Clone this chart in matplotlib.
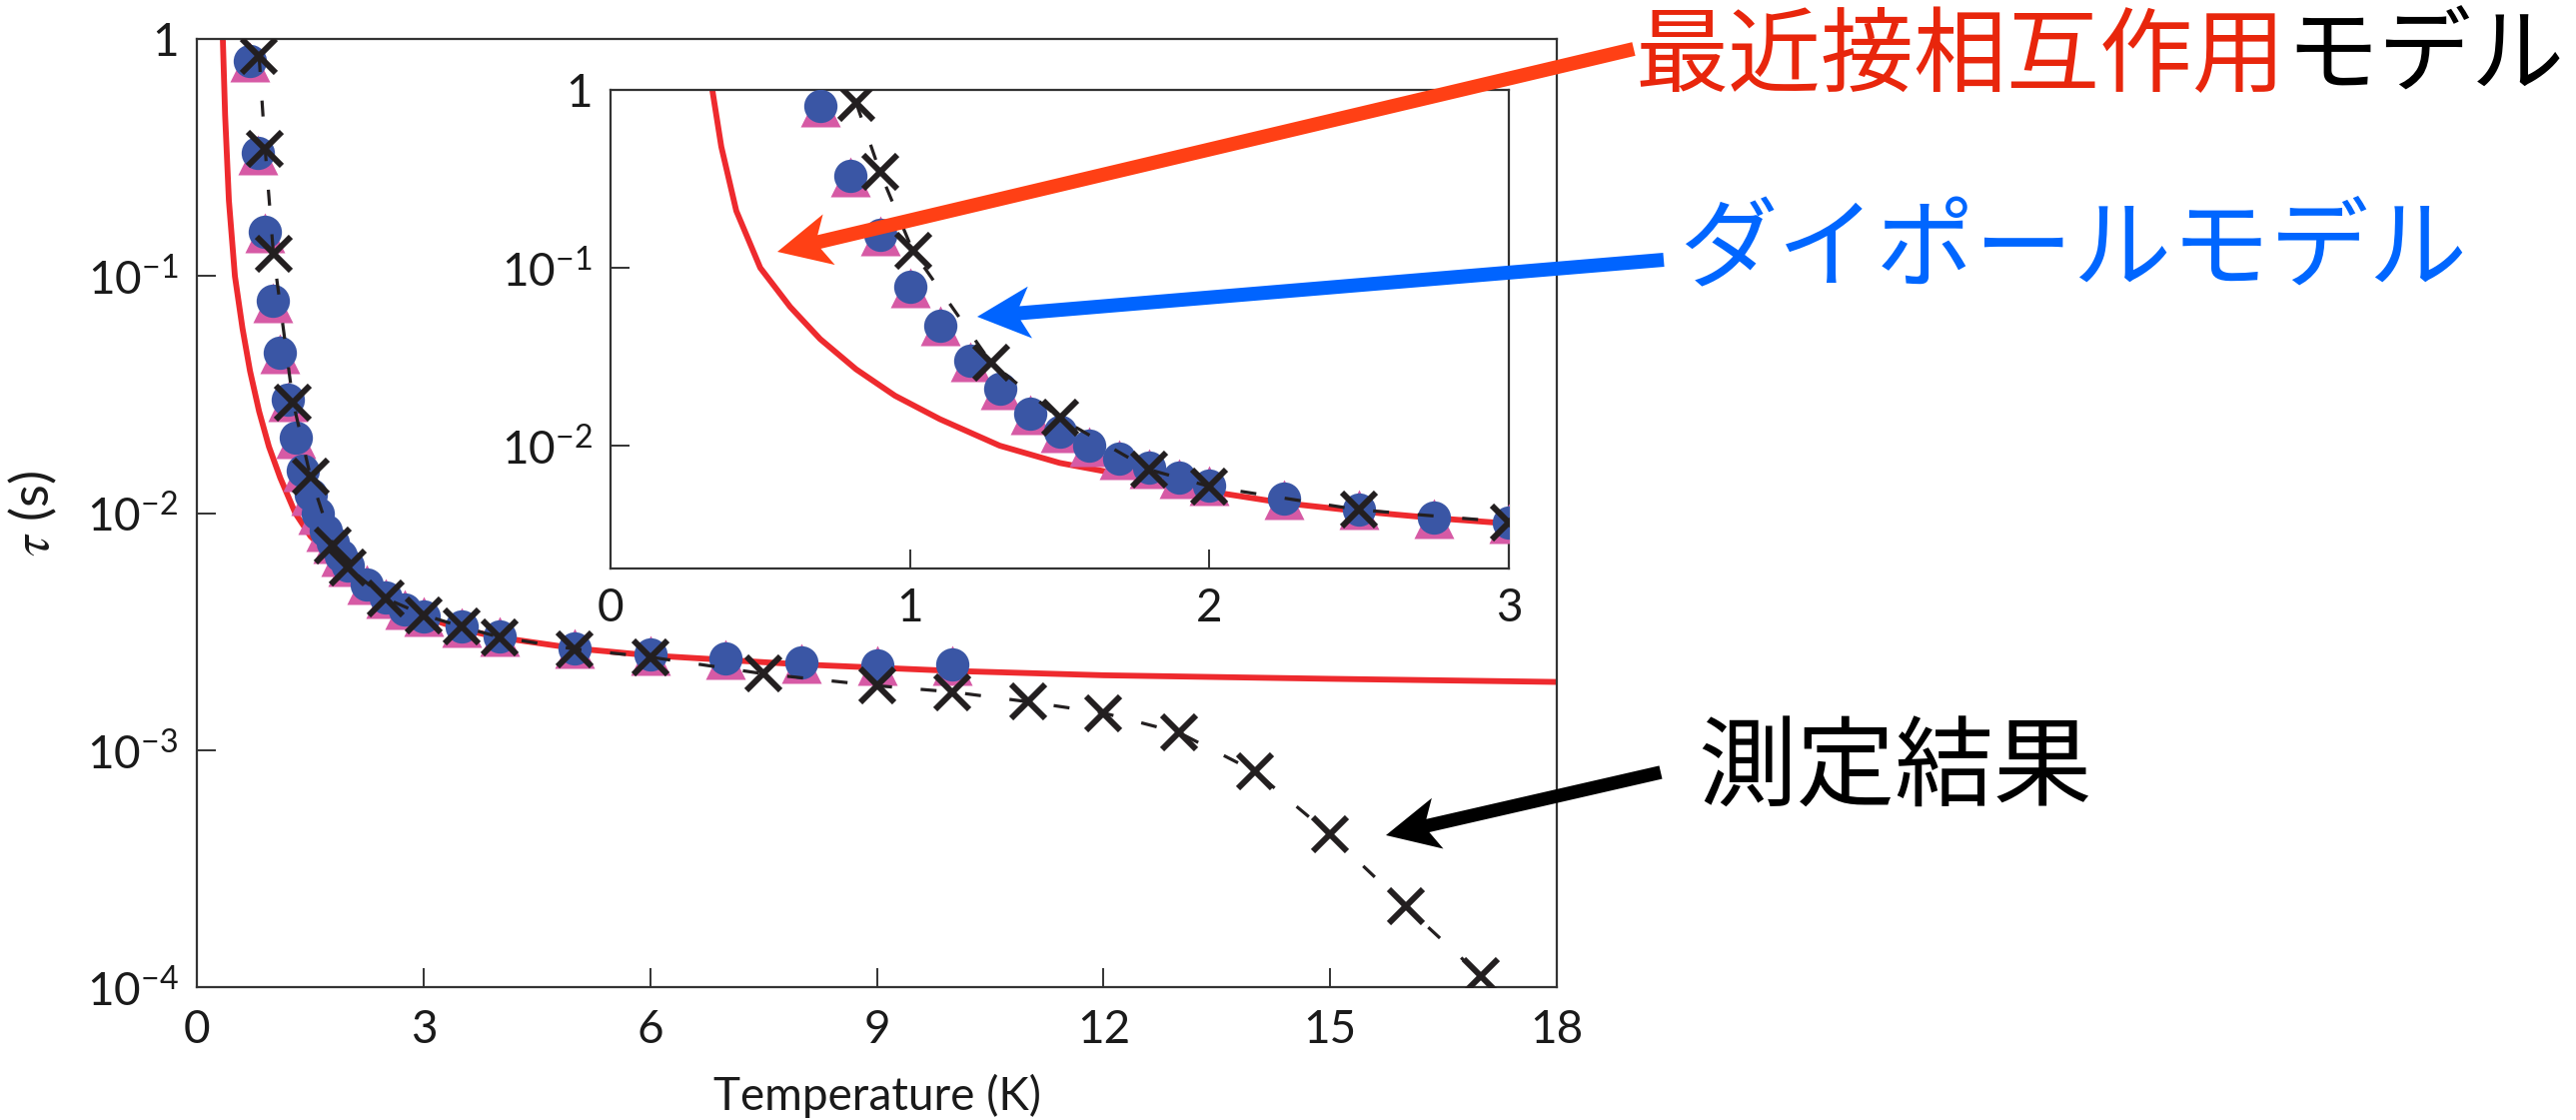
import matplotlib
matplotlib.use("Agg")
import matplotlib.pyplot as plt
import numpy as np
from matplotlib.patches import Polygon
from matplotlib.transforms import IdentityTransform
from matplotlib.ticker import FixedLocator, FixedFormatter

# ---------------- data ----------------
# nearest-neighbour model (red curve)
nn_T = [0.34, 0.37, 0.42, 0.50, 0.60, 0.70, 0.82, 0.95, 1.10, 1.30, 1.50, 1.80,
        2.00, 2.25, 2.50, 2.75, 3.00, 3.50, 4.00, 5.00, 6.00, 8.00, 10.0, 12.0,
        15.0, 18.0]
nn_tau = [1.0, 0.479, 0.209, 0.100, 0.0603, 0.0398, 0.0269, 0.0191, 0.0141,
          0.0100, 0.0080, 0.00644, 0.00553, 0.00476, 0.00428, 0.00392, 0.00365,
          0.00324, 0.00299, 0.00269, 0.00251, 0.00230, 0.00216, 0.00207,
          0.00200, 0.00194]

# dipolar model simulations (circles and triangles)
dip_T = [0.7, 0.8, 0.9, 1.0, 1.1, 1.2, 1.3, 1.4, 1.5, 1.6, 1.7, 1.8, 1.9, 2.0,
         2.25, 2.5, 2.75, 3.0, 3.5, 4.0, 5.0, 6.0, 7.0, 8.0, 9.0, 10.0]
dip_tau = [0.81, 0.33, 0.154, 0.0785, 0.0475, 0.030, 0.0209, 0.0151, 0.0120,
           0.0100, 0.00845, 0.0075, 0.0066, 0.0060, 0.00502, 0.0044, 0.00392,
           0.00368, 0.00332, 0.00303, 0.00269, 0.00253, 0.00243, 0.00234,
           0.00228, 0.00229]
tri_tau = [0.80, 0.325, 0.152, 0.0775, 0.047, 0.0297, 0.0207, 0.0150, 0.0119,
           0.0099, 0.0084, 0.00745, 0.00655, 0.00596, 0.00500, 0.00438, 0.00391,
           0.00367, 0.00331, 0.00302, 0.00268, 0.00252, 0.00242, 0.00233,
           0.00227, 0.00228]

# measurement (crosses)
exp_T = [0.82, 0.90, 1.01, 1.27, 1.50, 1.80, 2.00, 2.50, 3.00, 3.50, 4.00, 5.00,
         6.00, 7.50, 9.00, 10.0, 11.0, 12.0, 13.0, 14.0, 15.0, 16.0, 17.0]
exp_tau = [0.85, 0.345, 0.124, 0.0294, 0.0143, 0.00733, 0.0059, 0.00436,
           0.00372, 0.00332, 0.0030, 0.00267, 0.00247, 0.0021, 0.00187,
           0.00176, 0.0016, 0.001435, 0.001185, 0.000814, 0.00044, 0.000219,
           0.000111]

main_xticks = [0, 3, 6, 9, 12, 15, 18]
main_yticks = [1e-4, 1e-3, 1e-2, 1e-1, 1]
main_ylabels = [r'$\mathregular{10^{-4}}$', r'$\mathregular{10^{-3}}$',
                r'$\mathregular{10^{-2}}$', r'$\mathregular{10^{-1}}$', '1']
inset_xticks = [0, 1, 2, 3]
inset_yticks = [1e-2, 1e-1, 1]
inset_ylabels = [r'$\mathregular{10^{-2}}$', r'$\mathregular{10^{-1}}$', '1']

# ---------------- style ----------------
W, H, DPI = 2578, 1121, 100
plt.rcParams['font.family'] = ['Lato', 'DejaVu Sans']
plt.rcParams['font.weight'] = 'normal'
plt.rcParams['axes.labelweight'] = 'normal'
plt.rcParams['mathtext.fontset'] = 'stix'
JP = ['Noto Sans CJK JP', 'DejaVu Sans']

RED_LINE = '#EE2A2E'
BLUE_DOT = '#3A56A5'
PINK_TRI = '#D65AA5'
INK = '#231F20'
AXC = '#333333'
TXT = '#1A1A1A'

fig = plt.figure(figsize=(W / DPI, H / DPI), dpi=DPI)
fig.patch.set_facecolor('white')


def style_axes(ax, xticks, yticks, ylabels, xpad, ypad):
    ax.set_yscale('log')
    for s in ax.spines.values():
        s.set_linewidth(1.6)
        s.set_color(AXC)
    ax.xaxis.set_major_locator(FixedLocator(xticks))
    ax.set_xticklabels([str(t) for t in xticks])
    ax.yaxis.set_major_locator(FixedLocator(yticks))
    ax.yaxis.set_major_formatter(FixedFormatter(ylabels))
    ax.yaxis.set_minor_locator(FixedLocator([]))
    ax.tick_params(which='major', direction='in', length=13.7, width=1.4,
                   color=AXC, labelsize=33, labelcolor=TXT,
                   top=False, right=False)
    ax.tick_params(axis='x', pad=xpad)
    ax.tick_params(axis='y', pad=ypad)


def draw_series(ax):
    ax.plot(nn_T, nn_tau, color=RED_LINE, lw=4.2, zorder=2)
    ax.plot(dip_T, tri_tau, ls='none', marker='^', ms=29, color=PINK_TRI,
            mec='none', zorder=3)
    ax.plot(dip_T, dip_tau, ls='none', marker='o', ms=24, color=BLUE_DOT,
            mec='none', zorder=4)
    ax.plot(exp_T, exp_tau, ls=(0, (5, 9)), lw=2.3, color=INK, zorder=5)
    ax.plot(exp_T, exp_tau, ls='none', marker='x', ms=25, mew=4.3, color=INK,
            zorder=6)


# main panel
ax = fig.add_axes([197.3 / W, 1 - 988 / H, (1558 - 197.3) / W, (988 - 39.3) / H])
draw_series(ax)
style_axes(ax, main_xticks, main_yticks, main_ylabels, xpad=15.5, ypad=13.5)
ax.set_xlim(0, 18)
ax.set_ylim(1e-4, 1)
ax.set_xlabel('Temperature (K)', fontsize=33, color=TXT)
ax.xaxis.set_label_coords(0.5, -0.092)
ax.set_ylabel(r'$\tau$ (s)', fontsize=38, color=TXT)
ax.yaxis.set_label_coords(-0.102, 0.5)

# inset panel
axi = fig.add_axes([611 / W, 1 - 569 / H, (1510 - 611) / W, (569 - 90) / H])
axi.set_facecolor('white')
draw_series(axi)
style_axes(axi, inset_xticks, inset_yticks, inset_ylabels, xpad=13.5, ypad=13)
axi.set_xlim(0, 3)
axi.set_ylim(2.04e-3, 1)


# ---------------- annotations ----------------
def arrow(tail, tip, color, shaft=13.5, head_len=53, head_w=52, neck=43):
    """Notched arrow given in image pixel coordinates (y downward)."""
    tail = np.array([tail[0], H - tail[1]], float)
    tip = np.array([tip[0], H - tip[1]], float)
    d = tip - tail
    d /= np.hypot(*d)
    n = np.array([-d[1], d[0]])
    back = tip - head_len * d
    nk = tip - neck * d
    verts = [tail + shaft / 2 * n, nk + shaft / 2 * n, back + head_w / 2 * n,
             tip, back - head_w / 2 * n, nk - shaft / 2 * n,
             tail - shaft / 2 * n]
    fig.add_artist(Polygon(verts, closed=True, facecolor=color,
                           edgecolor='none', transform=IdentityTransform(),
                           zorder=20))


arrow((1635, 49), (778, 252), '#FF4015', shaft=14)
arrow((1665, 260), (978, 317), '#0064FF', shaft=14)
arrow((1662, 773), (1387, 836), '#000000', shaft=13.5)

t1 = fig.text(1636 / W, 1 - 58 / H, '最近接相互作用', color='#E8260C',
              fontsize=67, family=JP, weight='normal', ha='left', va='center')
renderer = fig.canvas.get_renderer()
bb = t1.get_window_extent(renderer)
fig.text(bb.x1 / W, 1 - 58 / H, 'モデル', color='black', fontsize=67,
         family=JP, weight='normal', ha='left', va='center')
fig.text(1680 / W, 1 - 251 / H, 'ダイポールモデル', color='#0066FF',
         fontsize=71, family=JP, weight='normal', ha='left', va='center')
fig.text(1699 / W, 1 - 772 / H, '測定結果', color='black', fontsize=71,
         family=JP, weight='normal', ha='left', va='center')

fig.savefig('out.png', dpi=DPI, facecolor='white')
